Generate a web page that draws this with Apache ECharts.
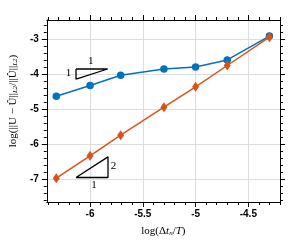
<!DOCTYPE html>
<html><head><meta charset="utf-8">
<script src="https://cdn.jsdelivr.net/npm/echarts@6/dist/echarts.min.js"></script>
<style>html,body{margin:0;padding:0;background:#fff}#c{width:305px;height:249px}</style>
</head><body><div id="c"></div>
<script>
// data
const xVals = [-6.32, -6.0, -5.71, -5.3, -5.0, -4.7, -4.3];
const blueVals = [-4.64, -4.33, -4.04, -3.86, -3.80, -3.60, -2.92];
const orangeVals = [-6.98, -6.34, -5.75, -4.95, -4.37, -3.76, -2.95];
const xMajor = [-6, -5.5, -5, -4.5];
const yMajor = [-7, -6, -5, -4, -3];
const xMinor = [-6.4,-6.3,-6.2,-6.1,-6.0,-5.9,-5.8,-5.7,-5.6,-5.5,-5.4,-5.3,-5.2,-5.1,-5.0,-4.9,-4.8,-4.7,-4.6,-4.5,-4.4,-4.3,-4.2];
const yMinor = [-7.6,-7.4,-7.2,-7.0,-6.8,-6.6,-6.4,-6.2,-6.0,-5.8,-5.6,-5.4,-5.2,-5.0,-4.8,-4.6,-4.4,-4.2,-4.0,-3.8,-3.6,-3.4,-3.2,-3.0,-2.8,-2.6];
const triA = [[-6.133,-3.86],[-5.833,-3.86],[-6.133,-4.15],[-6.133,-3.86]];
const triB = [[-6.133,-6.96],[-5.83,-6.96],[-5.83,-6.37],[-6.133,-6.96]];
const triLabels = [
  {value:[-5.994,-3.64], text:'1'},
  {value:[-6.205,-3.98], text:'1'},
  {value:[-5.777,-6.63], text:'2'},
  {value:[-5.963,-7.17], text:'1'}
];
const xMin = -6.41, xMax = -4.2, yMin = -7.66, yMax = -2.46;

const chart = echarts.init(document.getElementById('c'), null, {renderer:'canvas'});
const black = '#000';
function xAx(pos, ticks, len, show, extra) {
  return Object.assign({
    type:'value', position:pos, min:xMin, max:xMax, gridIndex:0,
    axisLine:{show:show, onZero:false, lineStyle:{color:black,width:1}},
    axisTick:{show:true, inside:false, length:len, customValues:ticks, lineStyle:{color:black,width:1}},
    axisLabel:{show:false},
    splitLine:{show:false}
  }, extra||{});
}
function yAx(pos, ticks, len, show, extra) {
  return Object.assign({
    type:'value', position:pos, min:yMin, max:yMax, gridIndex:0,
    axisLine:{show:show, onZero:false, lineStyle:{color:black,width:1}},
    axisTick:{show:true, inside:false, length:len, customValues:ticks, lineStyle:{color:black,width:1}},
    axisLabel:{show:false},
    splitLine:{show:false}
  }, extra||{});
}
const serif = 'Liberation Serif';
const gridMarks = [].concat(
  xMajor.map(v=>({xAxis:v})),
  yMajor.map(v=>({yAxis:v}))
);
chart.setOption({
  animation:false,
  grid:{left:42, right:25, top:20, bottom:47, containLabel:false},
  xAxis:[
    xAx('bottom', xMinor, 3, true, {
      axisLabel:{show:true, customValues:xMajor, color:black, fontSize:10, fontWeight:'bold', fontFamily:'Liberation Sans', margin:7},
      name:'{r|log(Δ}{i|t}{s|n}{r|/}{i|T}{r|)}', nameLocation:'middle', nameGap:24,
      nameTextStyle:{color:black, fontFamily:serif, fontSize:11,
        rich:{r:{fontFamily:serif,fontSize:11,color:black}, i:{fontFamily:serif,fontSize:11,fontStyle:'italic',color:black}, s:{fontFamily:serif,fontSize:7,fontStyle:'italic',color:black,verticalAlign:'bottom',padding:[4,0,0,0]}}}
    }),
    xAx('bottom', xMajor, 5, false),
    xAx('top', xMinor, 3, true),
    xAx('top', xMajor, 5, false)
  ],
  yAxis:[
    yAx('left', yMinor, 3, true, {
      axisLabel:{show:true, customValues:yMajor, color:black, fontSize:10, fontWeight:'bold', fontFamily:'Liberation Sans', margin:8},
      name:'{r|log(||U − Û||}{s|L2}{r|/||Û||}{s|L2}{r|)}', nameLocation:'middle', nameGap:20,
      nameTextStyle:{color:black, fontFamily:serif, fontSize:11, padding:[0,0,0,20],
        rich:{r:{fontFamily:serif,fontSize:11,color:black}, s:{fontFamily:serif,fontSize:7,fontStyle:'italic',color:black,verticalAlign:'bottom',padding:[4,0,0,0]}}}
    }),
    yAx('left', yMajor, 5, false),
    yAx('right', yMinor, 3, true),
    yAx('right', yMajor, 5, false)
  ],
  series:[
    {type:'line', xAxisIndex:0, yAxisIndex:0, silent:true, symbol:'none', data:[], z:0, zlevel:0,
     markLine:{silent:true, symbol:'none', z:0, label:{show:false}, lineStyle:{color:'#dedede', width:1, type:'solid'}, data:gridMarks}},
    {type:'line', xAxisIndex:0, yAxisIndex:0, data:xVals.map((x,i)=>[x,blueVals[i]]), z:5,
     symbol:'circle', symbolSize:7.5, lineStyle:{color:'#0072BD', width:1.5}, itemStyle:{color:'#0072BD', borderWidth:0, opacity:1}},
    {type:'line', xAxisIndex:0, yAxisIndex:0, data:xVals.map((x,i)=>[x,orangeVals[i]]), z:6,
     symbol:'diamond', symbolSize:[7,10], lineStyle:{color:'#D95319', width:1.5}, itemStyle:{color:'#D95319', borderWidth:0, opacity:1}},
    {type:'line', xAxisIndex:0, yAxisIndex:0, data:triA, symbol:'none', z:5, lineStyle:{color:black, width:1.3}},
    {type:'line', xAxisIndex:0, yAxisIndex:0, data:triB, symbol:'none', z:5, lineStyle:{color:black, width:1.3}},
    {type:'scatter', xAxisIndex:0, yAxisIndex:0, symbol:'circle', symbolSize:1, z:7,
     itemStyle:{color:'rgba(0,0,0,0)'},
     data:triLabels.map(d=>({value:d.value, name:d.text})),
     labelLayout:{hideOverlap:false},
     label:{show:true, position:'inside', formatter:p=>p.name, color:'#000', opacity:1, fontFamily:serif, fontSize:11}}
  ]
});
</script></body></html>
